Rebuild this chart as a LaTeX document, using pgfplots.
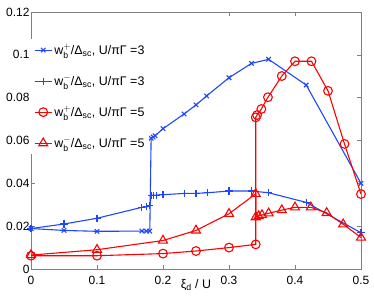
\documentclass[border=0pt]{standalone}
\usepackage{fontspec}
\setmainfont{Liberation Sans}
\usepackage{amsmath}
\usepackage{pgfplots}
\pgfplotsset{compat=1.18}
\definecolor{mblue}{RGB}{30,70,255}
\definecolor{mred}{RGB}{255,0,0}
\definecolor{agray}{RGB}{128,128,128}
\begin{document}
\begin{tikzpicture}
\useasboundingbox (-31bp,-38bp) rectangle (343bp,269bp);
\begin{axis}[
  at={(0,0)}, anchor=south west,
  scale only axis,
  width=330bp, height=257bp,
  xmin=0, xmax=0.5, ymin=0, ymax=0.12,
  xtick={0,0.1,0.2,0.3,0.4,0.5},
  ytick={0,0.02,0.04,0.06,0.08,0.1,0.12},
  yticklabels={0,0.02,0.04,0.06,0.08,0.1,0.12},
  xticklabels={0,0.1,0.2,0.3,0.4,0.5},
  xtick pos=bottom,
  extra x ticks={0.3,0.4},
  extra x tick labels={},
  extra x tick style={xtick pos=top},
  tick align=inside,
  major tick length=4bp,
  axis line style={agray, line width=0.7pt},
  tick style={agray, line width=0.6pt},
  tick label style={font=\fontsize{12}{13}\selectfont, black},
  yticklabel style={xshift=2bp},
  xticklabel style={anchor=base, yshift=-15bp},
  xlabel={ξ$_{\text{d}}$ / U},
  xlabel style={font=\fontsize{12.5}{13}\selectfont, at={(axis description cs:0.5,0)}, anchor=base, yshift=-19bp},
  legend style={draw=none, fill=white, at={(0,1)}, anchor=north west, yshift=-27bp,
    font=\fontsize{12.5}{13}\selectfont, row sep=15.3bp, inner sep=3bp,
    legend cell align=left},
  every axis plot/.append style={line width=1.1pt},
]
\addplot[color=mblue, mark=x, mark size=3.2pt, mark options={color=mblue}] coordinates {
(0,0.0189) (0.05,0.018) (0.1,0.0176) (0.168,0.0177) (0.175,0.0177) (0.18,0.0177)
(0.182,0.0611) (0.185,0.0616) (0.188,0.0622) (0.2,0.0655) (0.232,0.0724) (0.25,0.0766)
(0.266,0.0808) (0.3,0.0893) (0.334,0.096) (0.36,0.0979) (0.417,0.0859) (0.5,0.040)};
\addlegendentry{$\text{w}_{\text{b}}^{+}$/Δ$_{\text{sc}}$, U/πΓ =3}
\addplot[color=mblue, mark=+, mark size=3.6pt, mark options={color=mblue}] coordinates {
(0,0.0189) (0.05,0.021) (0.1,0.0237) (0.168,0.0288) (0.175,0.029) (0.18,0.0295)
(0.182,0.0343) (0.185,0.0345) (0.19,0.0345) (0.2,0.0347) (0.233,0.0353) (0.25,0.0353)
(0.267,0.0356) (0.3,0.0364) (0.334,0.0364) (0.36,0.0356) (0.417,0.0311) (0.5,0.0169)};
\addlegendentry{$\text{w}_{\text{b}}^{-}$/Δ$_{\text{sc}}$, U/πΓ =3}
\addplot[color=mred, mark=o, mark size=4.4pt, mark options={color=mred}] coordinates {
(0,0.0062) (0.1,0.0062) (0.2,0.0072) (0.25,0.0084) (0.3,0.0100) (0.3405,0.0115)
(0.3405,0.0708) (0.3425,0.0719) (0.349,0.0747) (0.359,0.0802) (0.38,0.0901) (0.4,0.097)
(0.425,0.097) (0.45,0.0832) (0.475,0.0584) (0.5,0.035)};
\addlegendentry{$\text{w}_{\text{b}}^{+}$/Δ$_{\text{sc}}$, U/πΓ =5}
\addplot[color=mred, mark=triangle, mark size=5.2pt, mark options={color=mred}] coordinates {
(0,0.0065) (0.1,0.0090) (0.2,0.0133) (0.25,0.0180) (0.3,0.0258) (0.3405,0.0351)
(0.3405,0.0242) (0.345,0.0247) (0.35,0.0252) (0.36,0.0260) (0.38,0.0275) (0.4,0.0288)
(0.424,0.0288) (0.448,0.0262) (0.473,0.0209) (0.5,0.0147)};
\addlegendentry{$\text{w}_{\text{b}}^{-}$/Δ$_{\text{sc}}$, U/πΓ =5}
\end{axis}
\end{tikzpicture}
\end{document}
